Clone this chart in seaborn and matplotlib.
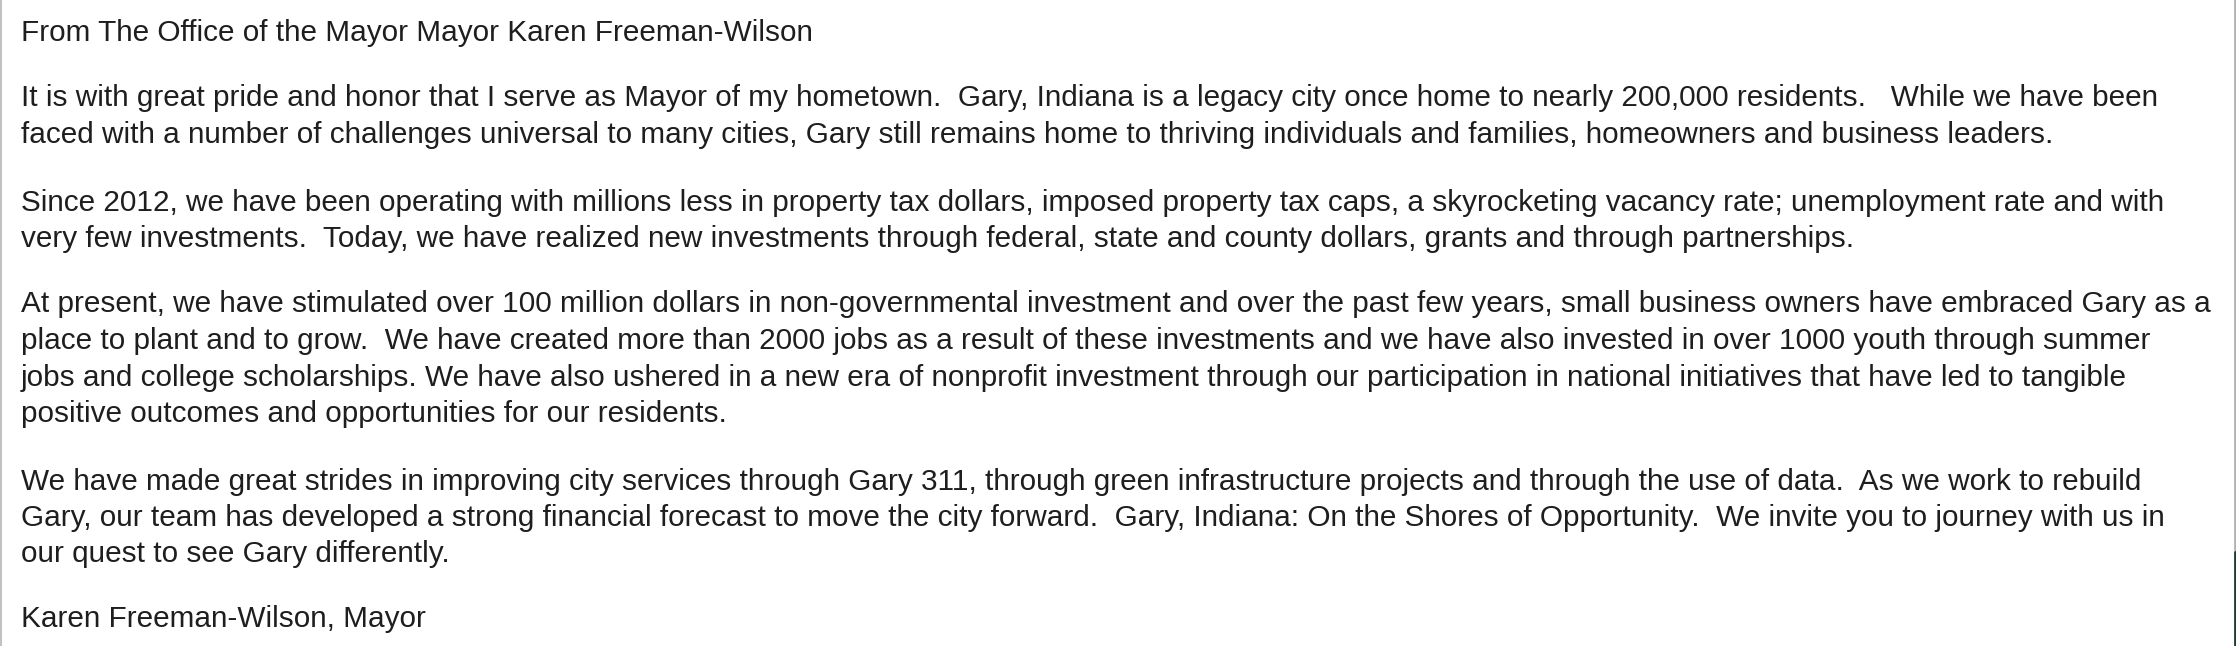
import matplotlib
matplotlib.use("Agg")
import matplotlib.pyplot as plt
import seaborn as sns
from matplotlib.lines import Line2D

sns.set_theme(style="white")
plt.rcParams['font.family'] = ['Liberation Sans', 'DejaVu Sans']

# Text content (one entry per rendered line)
lines = [
    "From The Office of the Mayor Mayor Karen Freeman-Wilson",
    "It is with great pride and honor that I serve as Mayor of my hometown.  Gary, Indiana is a legacy city once home to nearly 200,000 residents.   While we have been",
    "faced with a number of challenges universal to many cities, Gary still remains home to thriving individuals and families, homeowners and business leaders.",
    "Since 2012, we have been operating with millions less in property tax dollars, imposed property tax caps, a skyrocketing vacancy rate; unemployment rate and with",
    "very few investments.  Today, we have realized new investments through federal, state and county dollars, grants and through partnerships.",
    "At present, we have stimulated over 100 million dollars in non-governmental investment and over the past few years, small business owners have embraced Gary as a",
    "place to plant and to grow.  We have created more than 2000 jobs as a result of these investments and we have also invested in over 1000 youth through summer",
    "jobs and college scholarships. We have also ushered in a new era of nonprofit investment through our participation in national initiatives that have led to tangible",
    "positive outcomes and opportunities for our residents.",
    "We have made great strides in improving city services through Gary 311, through green infrastructure projects and through the use of data.  As we work to rebuild",
    "Gary, our team has developed a strong financial forecast to move the city forward.  Gary, Indiana: On the Shores of Opportunity.  We invite you to journey with us in",
    "our quest to see Gary differently.",
    "Karen Freeman-Wilson, Mayor",
]
baselines = [40.7, 106, 142.7, 210.7, 246.7, 312.3, 349, 385.5, 422, 490, 526, 562, 626.7]

W, H = 2236, 646
X0 = 21.0
TARGET_RIGHT = 2214.0  # right end of the widest line in the reference
WIDEST = 5

fig = plt.figure(figsize=(W / 100, H / 100), dpi=100)
ax = fig.add_axes([0, 0, 1, 1])
ax.set_xlim(0, W)
ax.set_ylim(H, 0)
ax.axis("off")
sns.despine(ax=ax, left=True, bottom=True)

base_size = 19.4
texts = [ax.text(X0, yb, txt, fontsize=base_size, color="#1e1e1e", va="baseline", ha="left")
         for txt, yb in zip(lines, baselines)]

# fit the font size so the widest line spans the same width as in the reference
fig.canvas.draw()
r = fig.canvas.get_renderer()
bb = texts[WIDEST].get_window_extent(renderer=r)
scale = (TARGET_RIGHT - X0) / bb.width
for t in texts:
    t.set_fontsize(base_size * scale)

# window edges
fig.add_artist(Line2D([0.5 / W, 0.5 / W], [0, 1], color="#b5b5b5", lw=1.2, transform=fig.transFigure))
fig.add_artist(Line2D([2234.8 / W, 2234.8 / W], [(H - 552) / H, 1], color="#b0b4b8", lw=2, transform=fig.transFigure))
fig.add_artist(Line2D([2234.8 / W, 2234.8 / W], [0, (H - 552) / H], color="#1f3a35", lw=2, transform=fig.transFigure))

fig.savefig("out.png", dpi=100, facecolor="white")
